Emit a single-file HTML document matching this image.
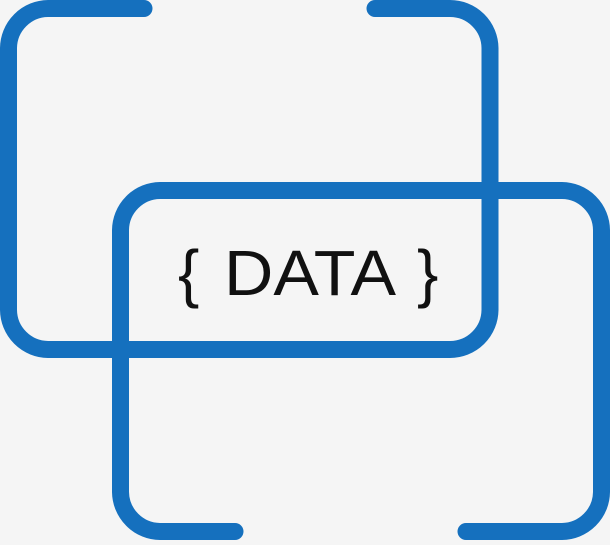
<!DOCTYPE html>
<html><head><style>html,body{margin:0;padding:0;background:#f5f5f5;}</style></head>
<body>
<svg width="610" height="540" viewBox="0 0 610 540" xmlns="http://www.w3.org/2000/svg">
<rect width="610" height="540" fill="#f5f5f5"/>
<g fill="none" stroke="#1570be" stroke-width="17" stroke-linecap="round">
<path d="M144 8.5 H48 A40 40 0 0 0 8.5 48 V310 A40 40 0 0 0 48 349.5 H450 A40 40 0 0 0 490 310 V48 A40 40 0 0 0 450 8.5 H375"/>
<path d="M235 531.5 H160 A40 40 0 0 1 120.5 492 V230 A40 40 0 0 1 160 190.5 H562 A40 40 0 0 1 601.5 230 V492 A40 40 0 0 1 562 531.5 H466"/>
</g>
<g font-family="Liberation Sans, sans-serif" font-size="64" fill="#111">
<text x="178" y="295">{</text>
<text x="224" y="295" textLength="172" lengthAdjust="spacingAndGlyphs">DATA</text>
<text x="417" y="295">}</text>
</g>
</svg>
</body></html>
